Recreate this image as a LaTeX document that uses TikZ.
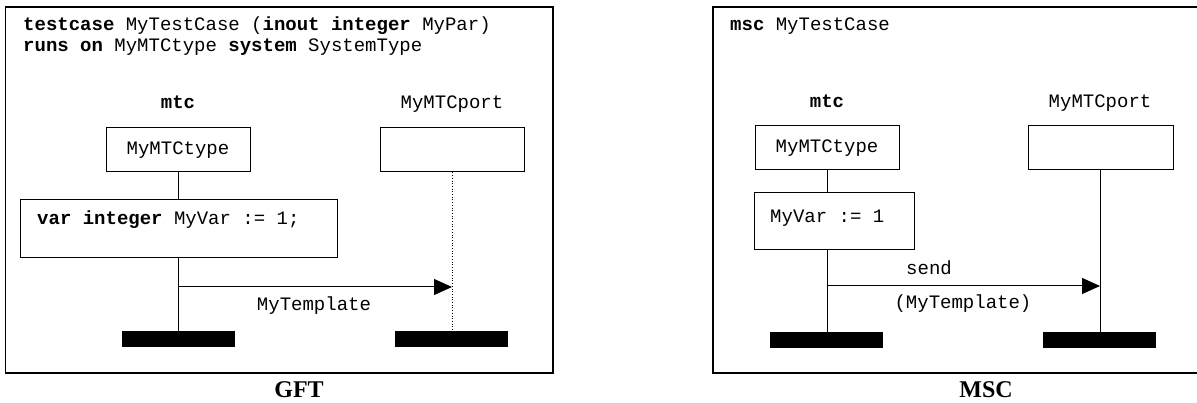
\documentclass[tikz,border=0pt]{standalone}
\usepackage{fontspec}
\setmainfont{Liberation Serif}
\setmonofont{Liberation Mono}
\usetikzlibrary{arrows.meta}
\begin{document}
\begin{tikzpicture}[
      x=1pt, y=-1pt,
      frame/.style={rectangle, draw, line width=1.2pt, inner sep=0pt},
      block/.style={rectangle, draw, line width=1pt, inner sep=0pt,
                    font=\fontsize{19}{22}\ttfamily},
      code/.style={inner sep=0pt, font=\fontsize{19}{22}\ttfamily},
      bar/.style={rectangle, fill=black, inner sep=0pt,
                  minimum width=113pt, minimum height=16pt},
      caption/.style={inner sep=0pt, font=\fontsize{24}{28}\bfseries},
      life/.style={line width=1pt},
      arrow/.style={-{Triangle[length=18pt, width=16pt]}, line width=1pt}
    ]
    \useasboundingbox (0,0) rectangle (1197,403);
    \node[frame, minimum width=547.5pt, minimum height=366pt] (gftframe) at (279.25,190) {};
    \node[frame, minimum width=497pt, minimum height=366pt]   (mscframe) at (961.5, 190) {};
    \node[code, anchor=base west] (gfthead1) at (23,31) {\textbf{testcase} MyTestCase (\textbf{inout integer} MyPar)};
    \node[code, anchor=base west] (gfthead2) at (23,52) {\textbf{runs on} MyMTCtype \textbf{system} SystemType};
    \node[code, anchor=base west] (mschead)  at (730,31) {\textbf{msc} MyTestCase};
    \node[code, anchor=base] (gftmtc)   at (178,109)  {\textbf{mtc}};
    \node[code, anchor=base] (gftport)  at (452,109)  {MyMTCport};
    \node[code, anchor=base] (mscmtc)   at (827,108)  {\textbf{mtc}};
    \node[code, anchor=base] (mscport)  at (1100,108) {MyMTCport};
    \node[block, minimum width=144pt, minimum height=44pt] (gfttype)  at (178,150)   {MyMTCtype};
    \node[block, minimum width=144pt, minimum height=44pt] (gftpbox)  at (452,150)   {};
    \node[block, minimum width=317pt, minimum height=58pt] (gftvar)   at (178.5,229) {};
    \node[code, anchor=base west] (gftvartext) at (37,225) {\textbf{var integer} MyVar := 1;};
    \node[block, minimum width=144pt, minimum height=44pt] (msctype)  at (827,148)   {MyMTCtype};
    \node[block, minimum width=145pt, minimum height=44pt] (mscpbox)  at (1100.5,148) {};
    \node[block, minimum width=160pt, minimum height=57pt] (mscvar)   at (834,221.5) {};
    \node[code, anchor=base west] (mscvartext) at (770,223) {MyVar := 1};
    \node[bar] (gftbar1) at (178.5,339) {};
    \node[bar] (gftbar2) at (451.5,339) {};
    \node[bar] (mscbar1) at (826,340)   {};
    \node[bar] (mscbar2) at (1099.5,340) {};
    \coordinate (gftsrc) at (178,287);
    \coordinate (gftdst) at (452,287);
    \coordinate (mscsrc) at (827,286);
    \coordinate (mscdst) at (1100,286);
    \node[code, anchor=base] (gftmsg)  at (314,311) {MyTemplate};
    \node[code, anchor=base] (mscsend) at (929,275) {send};
    \node[code, anchor=base] (mscmsg)  at (963,309) {(MyTemplate)};
    \node[caption, anchor=base] (gftcap) at (299,397) {GFT};
    \node[caption, anchor=base] (msccap) at (986,397) {MSC};
    \draw[life] (gfttype.south) -- (gfttype.south |- gftvar.north);
    \draw[life] (gfttype.south |- gftvar.south) -- (gfttype.south |- gftbar1.north);
    \draw[dotted, line width=0.7pt] (gftpbox.south) -- (gftpbox.south |- gftbar2.north);
    \draw[life] (msctype.south) -- (msctype.south |- mscvar.north);
    \draw[life] (msctype.south |- mscvar.south) -- (msctype.south |- mscbar1.north);
    \draw[life] (mscpbox.south -| mscdst) -- (mscdst |- mscbar2.north);
    \draw[arrow] (gftsrc) -- (gftdst);
    \draw[arrow] (mscsrc) -- (mscdst);
  \end{tikzpicture}
\end{document}
